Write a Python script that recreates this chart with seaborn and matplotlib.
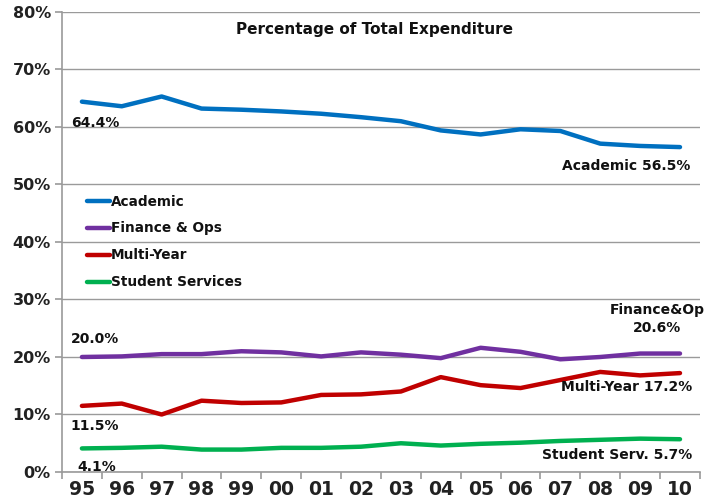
import pandas as pd
import matplotlib
matplotlib.use("Agg")
import matplotlib.pyplot as plt
import seaborn as sns
from matplotlib.ticker import FixedLocator, FuncFormatter

# datos
years = ["95", "96", "97", "98", "99", "00", "01", "02",
         "03", "04", "05", "06", "07", "08", "09", "10"]
academic = [64.4, 63.6, 65.3, 63.2, 63.0, 62.7, 62.3, 61.7,
            61.0, 59.4, 58.7, 59.6, 59.3, 57.1, 56.7, 56.5]
finance = [20.0, 20.1, 20.5, 20.5, 21.0, 20.8, 20.1, 20.8,
           20.4, 19.8, 21.6, 20.9, 19.6, 20.0, 20.6, 20.6]
multi_year = [11.5, 11.9, 10.0, 12.4, 12.0, 12.1, 13.4, 13.5,
              14.0, 16.5, 15.1, 14.6, 16.0, 17.4, 16.8, 17.2]
student = [4.1, 4.2, 4.4, 3.9, 3.9, 4.2, 4.2, 4.4,
           5.0, 4.6, 4.9, 5.1, 5.4, 5.6, 5.8, 5.7]

series_names = ["Academic", "Finance & Ops", "Multi-Year", "Student Services"]
colors = ["#0070C0", "#7030A0", "#C00000", "#00B050"]

# Armamos el dataframe en formato largo
df = pd.concat([
    pd.DataFrame({"year": years, "pct": vals, "serie": name})
    for name, vals in zip(series_names, [academic, finance, multi_year, student])
], ignore_index=True)

sns.set_theme(style="white")
plt.rcParams["font.family"] = ["DejaVu Sans"]
plt.rcParams["font.weight"] = "bold"

fig = plt.figure(figsize=(7.14, 4.98), dpi=100)
ax = fig.add_axes([0.0868, 0.0522, 0.8935, 0.9238])

sns.lineplot(data=df, x="year", y="pct", hue="serie", palette=colors,
             linewidth=3.2, sort=False, ax=ax)

# Ejes y rejilla
ax.set_ylim(0, 80)
ax.set_xlim(-0.5, 15.5)
ax.set_yticks(range(0, 81, 10))
ax.yaxis.set_major_formatter(FuncFormatter(lambda v, p: f"{int(v)}%"))
ax.grid(axis="y", color="#9a9a9a", linewidth=1)
ax.set_axisbelow(True)
for s in ["top", "right"]:
    ax.spines[s].set_visible(False)
for s in ["left", "bottom"]:
    ax.spines[s].set_color("#9a9a9a")
    ax.spines[s].set_linewidth(1.2)

ax.xaxis.set_minor_locator(FixedLocator([i - 0.5 for i in range(17)]))
ax.tick_params(axis="x", which="major", length=0, labelsize=13.5, pad=6)
ax.tick_params(axis="x", which="minor", length=5, color="#9a9a9a", width=1.2,
               direction="out", bottom=True)
ax.tick_params(axis="y", length=5, color="#9a9a9a", width=1.2, direction="out",
               left=True, labelsize=11.5, pad=3)
for lbl in ax.get_xticklabels() + ax.get_yticklabels():
    lbl.set_fontweight("bold")
    lbl.set_color("#222222")
ax.set_xlabel("")
ax.set_ylabel("")

# Titulo
ax.text(7.35, 76.9, "Percentage of Total Expenditure", ha="center",
        va="center", fontsize=11, fontweight="bold", color="#111111")

# Leyenda
leg = ax.legend(loc="upper left", bbox_to_anchor=(0.03, 0.615), frameon=False,
                fontsize=9.8, handlelength=1.7, handletextpad=0.1,
                labelspacing=0.95, borderaxespad=0)
for t in leg.get_texts():
    t.set_fontweight("bold")
    t.set_color("#111111")
for h in leg.get_lines():
    h.set_linewidth(3.2)

# Etiquetas de valores
kw = dict(fontsize=10, fontweight="bold", color="#111111", va="center")
ax.text(0.33, 60.7, f"{academic[0]:.1f}%", ha="center", **kw)
ax.text(15.25, 53.2, f"Academic {academic[-1]:.1f}%", ha="right", **kw)
ax.text(0.33, 23.2, f"{finance[0]:.1f}%", ha="center", **kw)
ax.text(14.42, 26.6, f"Finance&Op\n{finance[-1]:.1f}%", ha="center",
        linespacing=1.3, **kw)
ax.text(0.33, 8.0, f"{multi_year[0]:.1f}%", ha="center", **kw)
ax.text(15.3, 14.8, f"Multi-Year {multi_year[-1]:.1f}%", ha="right", **kw)
ax.text(0.38, 0.9, f"{student[0]:.1f}%", ha="center", **kw)
ax.text(15.3, 3.0, f"Student Serv. {student[-1]:.1f}%", ha="right", **kw)

fig.savefig("out.png", dpi=100)
